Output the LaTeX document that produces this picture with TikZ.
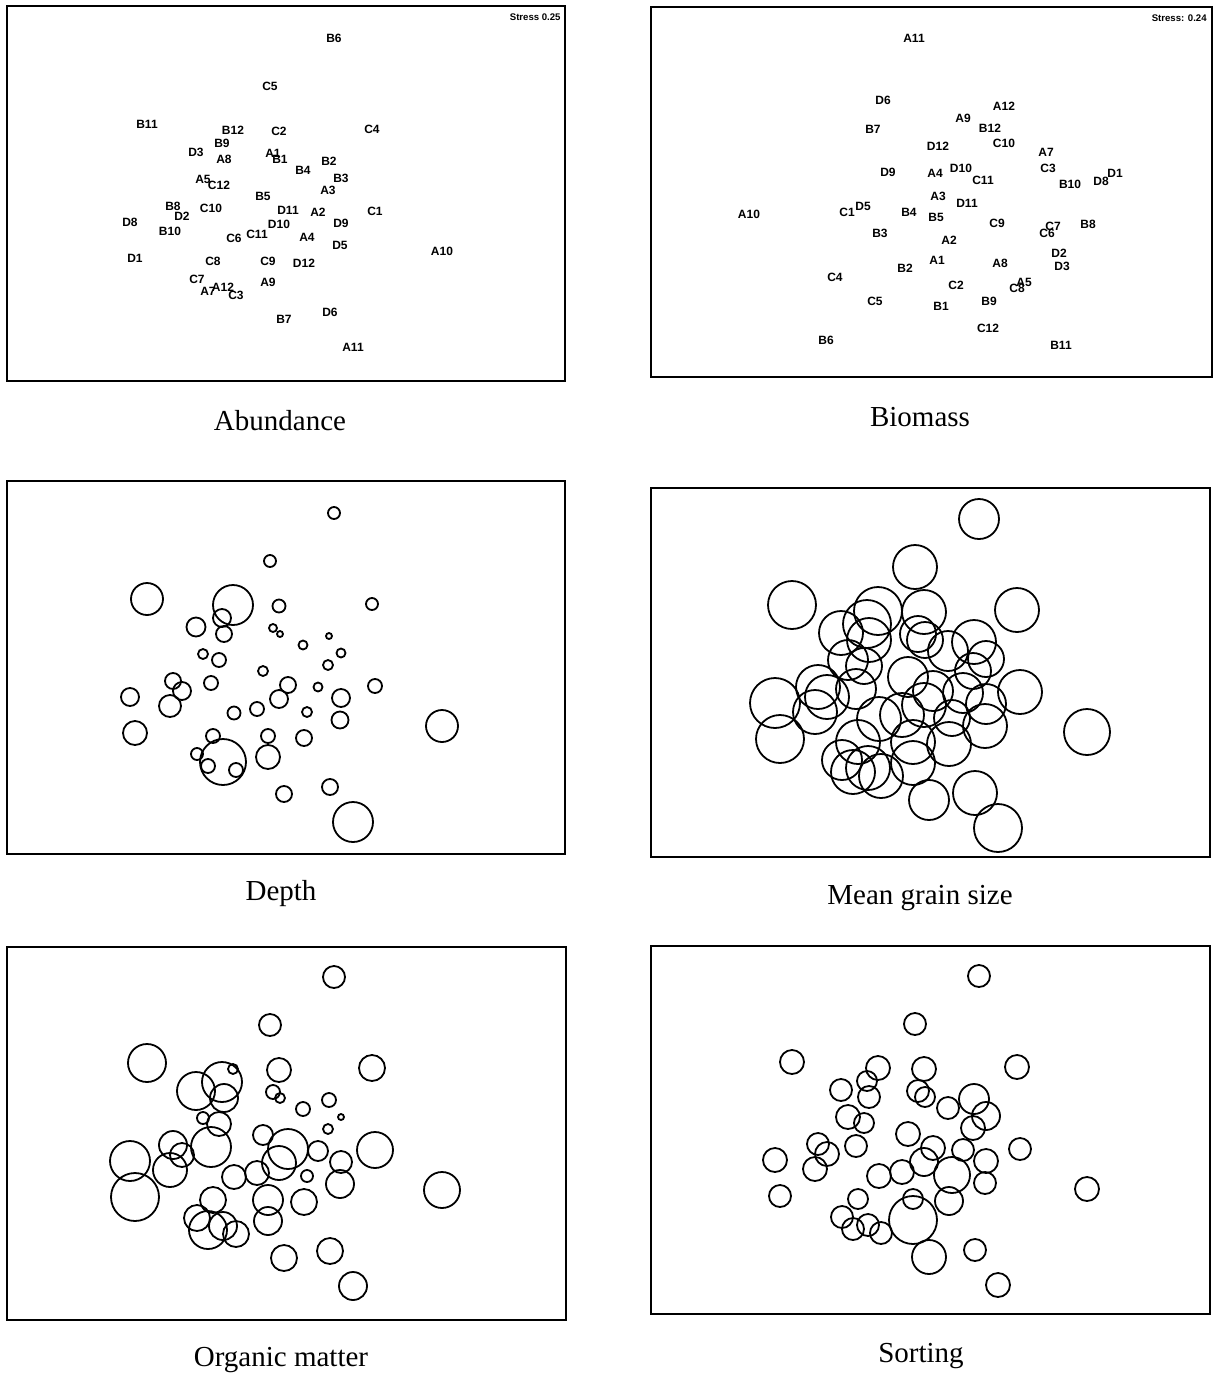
\documentclass[tikz,border=0pt]{standalone}
\usepackage{fontspec}
\setmainfont{Liberation Serif}
\newfontfamily\lblfont{Liberation Sans}
\begin{document}
\begin{tikzpicture}[x=0.5pt,y=-0.5pt,
  frame/.style={draw=black,line width=1pt},
  caption/.style={font=\fontsize{14.5}{16}\selectfont,inner sep=0pt},
  lbl/.style={font=\lblfont\bfseries\fontsize{6}{6}\selectfont,inner sep=0pt},
  stress/.style={font=\lblfont\bfseries\fontsize{4.8}{5}\selectfont,inner sep=0pt,anchor=east},
  bub/.style={draw=black,line width=0.9pt}]
\useasboundingbox (0,0) rectangle (1221,1378);
% frames
\draw[frame] (7,6) rectangle (565,381);
\draw[frame] (651,7) rectangle (1212,377);
\draw[frame] (7,481) rectangle (565,854);
\draw[frame] (651,488) rectangle (1210,857);
\draw[frame] (7,947) rectangle (566,1320);
\draw[frame] (651,946) rectangle (1210,1314);
% captions
\node[caption] (capA) at (280,421) {Abundance};
\node[caption] (capB) at (920,417) {Biomass};
\node[caption] (capD) at (281,894) {Depth};
\node[caption] (capG) at (920,898) {Mean grain size};
\node[caption] (capO) at (281,1360) {Organic matter};
\node[caption] (capS) at (921,1356) {Sorting};
% stress
\node[stress] (stA) at (561,17) {Stress 0.25};
\node[stress] (stB) at (1207,18) {Stress: 0.24};
% abundance labels and bubbles (depth, grain, organic matter, sorting)
\foreach \n/\x/\y/\rd/\rg/\ro/\rs in {
B6/334/38/6/20/11/11, C5/270/86/6/22/11/11, B11/147/124/16/24/19/12,
B12/233/130/20/24/5/12, C2/279/131/6.5/22/12/12, C4/372/129/6/22/13/12,
B9/222/143/9/24/20/10, D3/196/152/9.5/22/19/11, A8/224/159/8/22/14/11,
A1/273/153/4/18/7/11, B1/280/159/3/18/5/10, B2/329/161/3/22/7/15,
B4/303/170/4.5/20/7/11, B3/341/178/4.5/18/3/14, A5/203/179/5/20/6/12,
C12/219/185/7/18/12/10, A3/328/190/5/18/5/12, B5/263/196/5/20/10/12,
B8/173/206/8/22/14/11, D2/182/216/9/22/12/12, C10/211/208/7/20/20/11,
D11/288/210/8/20/20/12, A2/318/212/4.5/20/10/11, C1/375/211/7/22/18/11,
D8/130/222/9/25/20/12, D10/279/224/9/22/17/14, D9/341/223/9/20/11/12,
B10/170/231/11/22/17/12, C11/257/234/7/22/12/12, C6/234/238/6.5/22/12/12,
A4/307/237/5/18/6/18, D5/340/245/8.5/22/14/11, A10/442/251/16/23/18/12,
D1/135/258/12/24/24/11, C8/213/261/7/22/13/10, C9/268/261/7/22/15/10,
D12/304/263/8/22/13/14, C7/197/279/6/20/13/11, A12/223/287/23/22/14/11,
A7/208/291/7/22/19/11, C3/236/295/7/22/13/11, A9/268/282/12/22/14/24,
D6/330/312/8/22/13/11, B7/284/319/8/20/13/17, A11/353/347/20/24/14/12}{
  \node[lbl] (ab-\n) at (\x,\y) {\n};
  \draw[bub] (\x,\y+475) circle [radius=\rd*0.5pt];
  \draw[bub] (\x+645,\y+481) circle [radius=\rg*0.5pt];
  \draw[bub] (\x,\y+939) circle [radius=\ro*0.5pt];
  \draw[bub] (\x+645,\y+938) circle [radius=\rs*0.5pt];
}
% biomass labels
\foreach \n/\x/\y in {
A11/914/38, D6/883/100, A12/1004/106, A9/963/118, B7/873/129, B12/990/128,
D12/938/146, C10/1004/143, A7/1046/152, D9/888/172, A4/935/173, D10/961/168,
C3/1048/168, C11/983/180, B10/1070/184, D8/1101/181, D1/1115/173, A3/938/196,
D11/967/203, A10/749/214, C1/847/212, D5/863/206, B4/909/212, B5/936/217,
C9/997/223, C7/1053/226, C6/1047/233, B8/1088/224, B3/880/233, A2/949/240,
D2/1059/253, A1/937/260, A8/1000/263, D3/1062/266, B2/905/268, C4/835/277,
A5/1024/282, C8/1017/288, C2/956/285, C5/875/301, B9/989/301, B1/941/306,
C12/988/328, B6/826/340, B11/1061/345}{
  \node[lbl] (bm-\n) at (\x,\y) {\n};
}
\end{tikzpicture}
\end{document}
